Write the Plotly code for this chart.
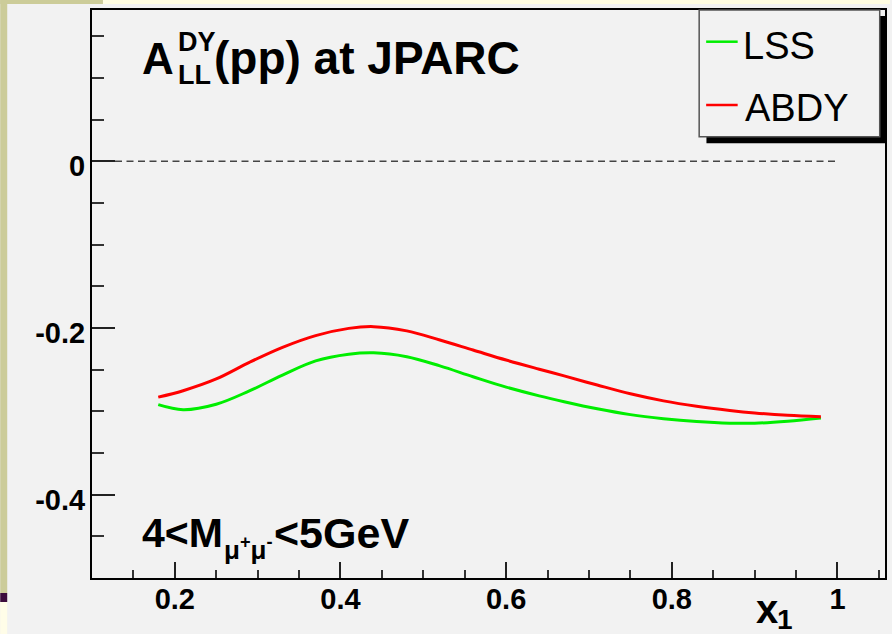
import plotly.graph_objects as go

# ---------------- data ----------------
X_VALS = [0.18, 0.21, 0.25, 0.29, 0.33, 0.37, 0.41, 0.44, 0.48, 0.52, 0.56,
          0.60, 0.64, 0.67, 0.71, 0.75, 0.79, 0.83, 0.87, 0.90, 0.94, 0.98]
LSS = [-0.292, -0.298, -0.2915, -0.2755, -0.2565, -0.2395, -0.2315, -0.2298, -0.2345,
       -0.2455, -0.2585, -0.2710, -0.2815, -0.2885, -0.2970, -0.3040, -0.3088, -0.3122,
       -0.3142, -0.3143, -0.3118, -0.3080]
ABDY = [-0.283, -0.2753, -0.2612, -0.2413, -0.2233, -0.2092, -0.2005, -0.1984,
        -0.2035, -0.2145, -0.2265, -0.2385, -0.2495, -0.2575, -0.2685, -0.2790,
        -0.2875, -0.2940, -0.2990, -0.3020, -0.3048, -0.3065]
SERIES_NAMES = ["LSS", "ABDY"]
SERIES_COLORS = ["#00ee00", "#ff0000"]

X_TICKS = [0.2, 0.4, 0.6, 0.8, 1.0]
X_TICK_LABELS = ["0.2", "0.4", "0.6", "0.8", "1"]
Y_TICKS = [-0.4, -0.2, 0.0]
Y_TICK_LABELS = ["-0.4", "-0.2", "0"]
X_RANGE = [0.1, 1.0574]
Y_RANGE = [-0.5, 0.1815]
ZERO_LINE_X = [0.1, 1.0]

# ---------------- layout helpers ----------------
W, H = 892, 634
L, R, T, B = 92, 5, 10, 56
PW, PH = W - L - R, H - T - B
FONT = "Liberation Sans, Arial, Helvetica, sans-serif"
BG = "#f2f2f2"


def fx(xp):
    return (xp - L) / PW


def fy(yp):
    return (H - B - yp) / PH


fig = go.Figure()
for name, ys, col in zip(SERIES_NAMES, [LSS, ABDY], SERIES_COLORS):
    fig.add_trace(go.Scatter(x=X_VALS, y=ys, mode="lines", name=name,
                             line=dict(color=col, width=3, shape="spline", smoothing=1.0)))

shapes = []
# slide background decorations
shapes += [
    dict(type="rect", xref="paper", yref="paper", x0=fx(0), x1=fx(7), y0=fy(0), y1=fy(593),
         fillcolor="#cccc99", line=dict(width=0), layer="below"),
    dict(type="rect", xref="paper", yref="paper", x0=fx(0), x1=fx(103), y0=fy(0), y1=fy(4),
         fillcolor="#cccc99", line=dict(width=0), layer="below"),
    dict(type="rect", xref="paper", yref="paper", x0=fx(103), x1=fx(892), y0=fy(0), y1=fy(4),
         fillcolor="#fffde2", line=dict(width=0), layer="below"),
    dict(type="rect", xref="paper", yref="paper", x0=fx(0), x1=fx(7), y0=fy(593), y1=fy(602),
         fillcolor="#3c0c3c", line=dict(width=0), layer="below"),
    dict(type="rect", xref="paper", yref="paper", x0=fx(0), x1=fx(7), y0=fy(602), y1=fy(634),
         fillcolor="#fffde8", line=dict(width=0), layer="below"),
]
# dashed zero line
shapes.append(dict(type="line", xref="x", yref="y", x0=ZERO_LINE_X[0], x1=ZERO_LINE_X[1],
                   y0=0, y1=0, line=dict(color="#444444", width=1.5, dash="7px,4.5px"),
                   layer="below"))
# legend box with shadow
shapes += [
    dict(type="rect", xref="paper", yref="paper", x0=fx(708), x1=fx(887.5), y0=fy(16), y1=fy(143.3),
         fillcolor="black", line=dict(width=0), layer="above"),
    dict(type="rect", xref="paper", yref="paper", x0=fx(700.7), x1=fx(881.7), y0=fy(10), y1=fy(136.7),
         fillcolor=BG, line=dict(color="#555555", width=1.5), layer="above"),
]
for yy, col in zip([41.7, 105], SERIES_COLORS):
    shapes.append(dict(type="line", xref="paper", yref="paper", x0=fx(707.7), x1=fx(739.3),
                       y0=fy(yy), y1=fy(yy), line=dict(color=col, width=2.5), layer="above"))

ann = []


def text(t, xp, yp, size, bold=True, xanchor="left", yanchor="middle"):
    ann.append(dict(text=t, x=fx(xp), y=fy(yp), xref="paper", yref="paper",
                    xanchor=xanchor, yanchor=yanchor, showarrow=False, borderpad=0,
                    font=dict(family=FONT, size=size, color="black",
                              weight="bold" if bold else "normal")))


# title
text("A", 141, 58.3, 44)
text("DY", 177, 42.5, 27)
text("LL", 177, 74.5, 27)
text("(pp) at JPARC", 213, 58.3, 46)
# mass window label
text("4&lt;M", 141, 532.5, 41)
text("μ<sup>+</sup>μ<sup>-</sup>", 223, 566, 26, yanchor="bottom")
text("&lt;5GeV", 273, 532.5, 43)
# x axis title
text("x", 756.5, 609.4, 40)
text("1", 777.5, 619.5, 28)
# legend labels
text(SERIES_NAMES[0], 744, 45.8, 38, bold=False)
text(SERIES_NAMES[1], 746, 108.3, 38, bold=False)

axis_common = dict(showline=True, linecolor="black", linewidth=2, mirror=True,
                   showgrid=False, zeroline=False, ticks="inside", tickwidth=2,
                   tickcolor="#222222", tickmode="array",
                   tickfont=dict(family=FONT, size=29, color="black", weight="bold"))

fig.update_layout(
    width=W, height=H, margin=dict(l=L, r=R, t=T, b=B, pad=0),
    paper_bgcolor=BG, plot_bgcolor=BG, showlegend=False,
    shapes=shapes, annotations=ann,
    xaxis=dict(range=X_RANGE, tickvals=X_TICKS, ticktext=X_TICK_LABELS, ticklen=16,
               ticklabelstandoff=-6,
               minor=dict(tickmode="linear", tick0=0.2, dtick=0.05, ticks="inside",
                          ticklen=8, tickwidth=1.5, tickcolor="#333333", showgrid=False),
               **axis_common),
    yaxis=dict(range=Y_RANGE, tickvals=Y_TICKS, ticktext=Y_TICK_LABELS, ticklen=23,
               ticklabelstandoff=-1, ticklabelshift=5,
               minor=dict(tickmode="linear", tick0=0, dtick=0.05, ticks="inside",
                          ticklen=12, tickwidth=1.5, tickcolor="#333333", showgrid=False),
               **axis_common),
)

fig.write_html("out.html", config={"displayModeBar": False},
               post_script="document.body.style.margin='0';")
